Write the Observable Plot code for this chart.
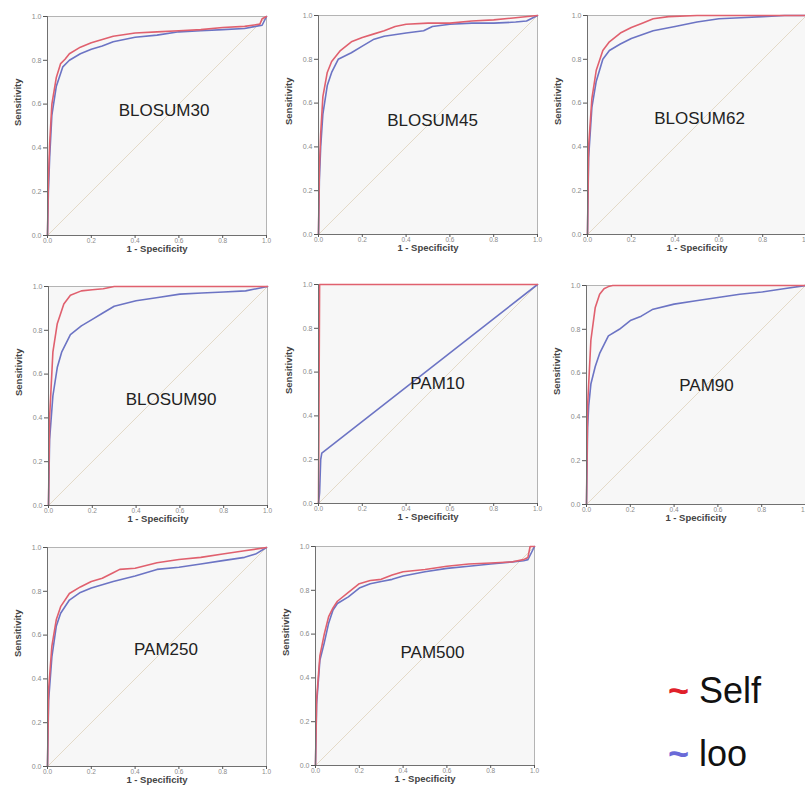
<!DOCTYPE html>
<html>
<head>
<meta charset="utf-8">
<script src="https://cdn.jsdelivr.net/npm/d3@7"></script>
<script src="https://cdn.jsdelivr.net/npm/@observablehq/plot@0.6"></script>
<style>
  html, body { margin: 0; padding: 0; background: #fff; width: 805px; height: 801px; overflow: hidden; }
  #root { position: relative; width: 805px; height: 801px; overflow: hidden; }
  .panel { position: absolute; }
  .panel svg { max-width: none !important; }
  .legend { position: absolute; font-family: "Liberation Sans", Arial, sans-serif; font-size: 36px; color: #111; line-height: 1; white-space: pre; }
</style>
</head>
<body>
<div id="root"></div>
<script>
// ---- Data: ROC curves ([1 - specificity, sensitivity]) ----
const tickValues = [0, 0.2, 0.4, 0.6, 0.8, 1.0];
const diagonal = [[0, 0], [1, 1]];
const seriesNames = ["Self", "loo"];

const blosum30Self = [[0,0],[0.004,0.25],[0.01,0.42],[0.02,0.6],[0.04,0.72],[0.06,0.785],[0.08,0.805],[0.1,0.83],[0.15,0.86],[0.2,0.88],[0.25,0.895],[0.3,0.91],[0.4,0.925],[0.5,0.93],[0.6,0.935],[0.7,0.94],[0.8,0.95],[0.9,0.955],[0.97,0.965],[0.98,0.99],[1,1]];
const blosum30Loo  = [[0,0],[0.004,0.2],[0.01,0.36],[0.02,0.55],[0.04,0.68],[0.07,0.77],[0.1,0.8],[0.15,0.83],[0.2,0.85],[0.25,0.865],[0.3,0.885],[0.4,0.905],[0.5,0.915],[0.6,0.93],[0.7,0.935],[0.8,0.94],[0.9,0.945],[0.95,0.955],[0.98,0.96],[1,1]];

const blosum45Self = [[0,0],[0.004,0.3],[0.01,0.46],[0.02,0.63],[0.04,0.74],[0.06,0.79],[0.1,0.84],[0.15,0.88],[0.2,0.9],[0.25,0.915],[0.3,0.93],[0.35,0.95],[0.4,0.96],[0.5,0.965],[0.6,0.965],[0.7,0.975],[0.8,0.98],[0.9,0.99],[1,1]];
const blosum45Loo  = [[0,0],[0.004,0.25],[0.01,0.4],[0.02,0.55],[0.04,0.68],[0.06,0.74],[0.09,0.8],[0.15,0.83],[0.2,0.86],[0.25,0.89],[0.3,0.905],[0.4,0.92],[0.48,0.93],[0.52,0.95],[0.6,0.96],[0.7,0.965],[0.8,0.965],[0.9,0.97],[0.95,0.975],[1,1]];

const blosum62Self = [[0,0],[0.005,0.4],[0.02,0.62],[0.04,0.75],[0.07,0.84],[0.1,0.88],[0.15,0.92],[0.2,0.945],[0.25,0.965],[0.3,0.985],[0.37,0.995],[0.5,1],[1,1]];
const blosum62Loo  = [[0,0],[0.005,0.35],[0.02,0.58],[0.04,0.7],[0.07,0.8],[0.1,0.84],[0.15,0.87],[0.2,0.895],[0.3,0.93],[0.4,0.95],[0.5,0.97],[0.6,0.985],[0.7,0.99],[0.8,0.995],[0.9,1],[1,1]];

const blosum90Self = [[0,0],[0.005,0.4],[0.02,0.7],[0.04,0.83],[0.07,0.92],[0.1,0.96],[0.15,0.98],[0.2,0.985],[0.25,0.99],[0.3,1],[1,1]];
const blosum90Loo  = [[0,0],[0.005,0.3],[0.02,0.5],[0.04,0.63],[0.06,0.7],[0.1,0.78],[0.15,0.82],[0.2,0.85],[0.25,0.88],[0.3,0.91],[0.4,0.935],[0.5,0.95],[0.6,0.965],[0.7,0.97],[0.8,0.975],[0.9,0.98],[0.95,0.99],[1,1]];

const pam10Self = [[0,0],[0.005,1],[1,1]];
const pam10Loo  = [[0,0],[0.005,0.05],[0.01,0.2],[0.015,0.23],[1,1]];

const pam90Self = [[0,0],[0.005,0.45],[0.02,0.75],[0.04,0.9],[0.06,0.96],[0.08,0.985],[0.1,0.995],[0.12,1],[1,1]];
const pam90Loo  = [[0,0],[0.005,0.35],[0.01,0.45],[0.02,0.55],[0.04,0.63],[0.06,0.69],[0.08,0.73],[0.1,0.77],[0.15,0.8],[0.2,0.84],[0.25,0.86],[0.3,0.89],[0.4,0.915],[0.5,0.93],[0.6,0.945],[0.7,0.96],[0.8,0.97],[0.9,0.985],[1,1]];

const pam250Self = [[0,0],[0.005,0.35],[0.02,0.55],[0.04,0.67],[0.06,0.73],[0.1,0.79],[0.15,0.82],[0.2,0.845],[0.25,0.86],[0.3,0.885],[0.33,0.9],[0.4,0.905],[0.5,0.93],[0.6,0.945],[0.7,0.955],[0.8,0.97],[0.9,0.985],[1,1]];
const pam250Loo  = [[0,0],[0.005,0.3],[0.02,0.5],[0.04,0.64],[0.06,0.7],[0.1,0.76],[0.15,0.795],[0.2,0.815],[0.25,0.83],[0.3,0.845],[0.4,0.87],[0.5,0.9],[0.6,0.91],[0.7,0.925],[0.8,0.94],[0.9,0.955],[0.95,0.97],[1,1]];

const pam500Self = [[0,0],[0.005,0.3],[0.02,0.5],[0.04,0.6],[0.06,0.68],[0.08,0.72],[0.1,0.75],[0.15,0.79],[0.2,0.83],[0.25,0.845],[0.3,0.85],[0.35,0.87],[0.4,0.885],[0.5,0.895],[0.6,0.91],[0.7,0.92],[0.8,0.925],[0.9,0.93],[0.95,0.94],[0.97,0.95],[0.98,1],[1,1]];
const pam500Loo  = [[0,0],[0.005,0.28],[0.02,0.48],[0.04,0.56],[0.06,0.65],[0.08,0.71],[0.1,0.74],[0.15,0.77],[0.2,0.81],[0.25,0.83],[0.3,0.84],[0.35,0.85],[0.4,0.865],[0.5,0.885],[0.6,0.9],[0.7,0.91],[0.8,0.92],[0.9,0.93],[0.95,0.935],[0.97,0.94],[0.98,0.96],[1,1]];

const panelNames = ["BLOSUM30","BLOSUM45","BLOSUM62","BLOSUM90","PAM10","PAM90","PAM250","PAM500"];
const selfCurves = [blosum30Self, blosum45Self, blosum62Self, blosum90Self, pam10Self, pam90Self, pam250Self, pam500Self];
const looCurves  = [blosum30Loo, blosum45Loo, blosum62Loo, blosum90Loo, pam10Loo, pam90Loo, pam250Loo, pam500Loo];

// ---- Layout (frame top-left in page pixels, and name label offset from frame centre) ----
const frameLeft = [47, 318, 587, 48, 318, 586, 47, 315];
const frameTop  = [16, 15, 15, 286, 284, 285, 547, 546];
const labelDx = [7, 4.5, 2.5, 13, 9.5, 10.5, 9, 7.5];
const labelDy = [-15.5, -4.5, -6, 4, -10.7, -9, -7.5, -3];

const RED = "#e0606e";
const BLUE = "#6c74c4";
const ML = 46, MT = 12, FW = 219, FH = 219, MR = 5, MB = 36;

const root = document.getElementById("root");

panelNames.forEach((name, i) => {
  const W = ML + FW + MR, H = MT + FH + MB;
  const chart = Plot.plot({
    width: W,
    height: H,
    marginLeft: ML, marginTop: MT, marginRight: MR, marginBottom: MB,
    style: { fontFamily: "'Liberation Sans', Arial, sans-serif", fontSize: "7px", background: "transparent", overflow: "visible", maxWidth: "none", width: W + "px", height: H + "px" },
    x: { domain: [0, 1] },
    y: { domain: [0, 1] },
    marks: [
      Plot.frame({ fill: "#f7f7f7", stroke: "#b4b4b4" }),
      Plot.line(diagonal, { stroke: "#e4dac8", strokeWidth: 1 }),
      Plot.line(looCurves[i], { stroke: BLUE, strokeWidth: 1.6 }),
      Plot.line(selfCurves[i], { stroke: RED, strokeWidth: 1.6 }),
      Plot.ruleX([0], { stroke: "#707070" }),
      Plot.ruleY([0], { stroke: "#707070" }),
      Plot.axisY({ ticks: tickValues, tickFormat: d3.format(".1f"), tickSize: 4, tickPadding: 2, label: null, stroke: "#555", fill: "#8a8a8a", fontSize: 7 }),
      Plot.axisX({ ticks: tickValues, tickFormat: d3.format(".1f"), tickSize: 3, tickPadding: 0, label: null, stroke: "#555", fill: "#8a8a8a", fontSize: 6.5 }),
      Plot.text(["1 - Specificity"], { frameAnchor: "bottom", dy: 16.5, fontSize: 9.5, fontWeight: "bold", fill: "#444" }),
      Plot.text(["Sensitivity"], { frameAnchor: "left", dx: -30, rotate: -90, fontSize: 9.5, fontWeight: "bold", fill: "#444" }),
      Plot.text([name], { frameAnchor: "middle", dx: labelDx[i], dy: labelDy[i], fontSize: 17, fill: "#222" })
    ]
  });
  const wrap = document.createElement("div");
  wrap.className = "panel";
  wrap.style.left = (frameLeft[i] - ML) + "px";
  wrap.style.top = (frameTop[i] - MT) + "px";
  wrap.style.width = W + "px";
  wrap.style.height = H + "px";
  wrap.appendChild(chart);
  root.appendChild(wrap);
});

// ---- Legend ----
const legendColors = [ "#e0202a", "#6a6ad8" ];
const legendTops = [ 673, 736 ];
seriesNames.forEach((s, i) => {
  const d = document.createElement("div");
  d.className = "legend";
  d.style.left = "668px";
  d.style.top = legendTops[i] + "px";
  const t = document.createElement("span");
  t.textContent = "~";
  t.style.color = legendColors[i];
  t.style.fontWeight = "bold";
  d.appendChild(t);
  d.appendChild(document.createTextNode(" " + s));
  root.appendChild(d);
});
</script>
</body>
</html>
